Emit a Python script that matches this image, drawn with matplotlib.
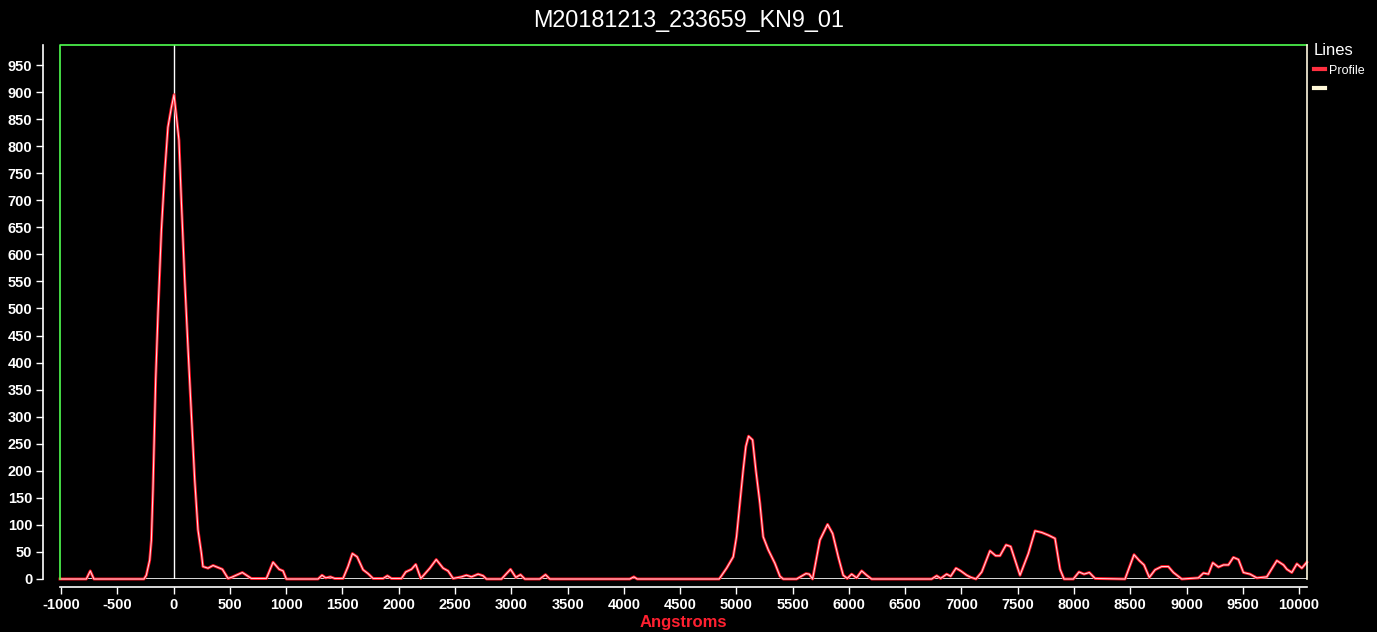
import numpy as np
import matplotlib
matplotlib.use('Agg')
import matplotlib.pyplot as plt
import matplotlib.patheffects as pe
from matplotlib.lines import Line2D

plt.rcParams['font.family'] = ['Liberation Sans', 'DejaVu Sans']
plt.rcParams['axes.unicode_minus'] = False

title = 'M20181213_233659_KN9_01'

# profile (Angstroms, intensity)
wavelength = [-1010, -776, -741, -709, -264, -243, -213, -198, -184, -160, -139, -109, -80, -51, -20,
              3, 18, 47, 68, 98, 127, 157, 187, 216, 246, 260, 305, 350, 433, 483, 513, 610, 690,
              824, 883, 937, 972, 1001, 1283, 1318, 1351, 1393, 1431, 1505, 1549, 1588, 1630, 1683,
              1727, 1772, 1861, 1899, 1935, 2024, 2062, 2113, 2151, 2196, 2276, 2333, 2394, 2438,
              2483, 2557, 2601, 2646, 2705, 2749, 2779, 2913, 2993, 3040, 3082, 3120, 3253, 3304,
              3342, 4053, 4089, 4118, 4847, 4913, 4972, 5001, 5031, 5060, 5084, 5108, 5144, 5173,
              5209, 5238, 5283, 5342, 5387, 5416, 5535, 5618, 5647, 5677, 5742, 5810, 5855, 5905,
              5949, 5985, 6024, 6068, 6113, 6157, 6201, 6735, 6780, 6815, 6868, 6904, 6951, 6993,
              7046, 7084, 7129, 7180, 7253, 7304, 7342, 7396, 7437, 7520, 7594, 7653, 7713, 7772,
              7831, 7876, 7911, 7994, 8044, 8089, 8136, 8187, 8453, 8533, 8580, 8622, 8669, 8720,
              8779, 8838, 8883, 8957, 9105, 9150, 9194, 9233, 9283, 9328, 9372, 9416, 9461, 9505,
              9564, 9624, 9713, 9802, 9861, 9891, 9935, 9980, 10024, 10068]
intensity = [0, 0, 15, 0, 0, 7, 35, 72, 165, 368, 492, 645, 750, 835, 872,
             895, 867, 811, 700, 553, 429, 307, 183, 91, 48, 23, 20, 25, 18, 1, 3, 12, 1,
             1, 31, 18, 15, 0, 0, 7, 2, 4, 1, 1, 23, 47, 41, 17,
             10, 1, 1, 6, 1, 1, 13, 18, 27, 1, 20, 36, 20, 15,
             1, 4, 7, 4, 9, 6, 0, 0, 18, 3, 8, 0, 0, 8,
             0, 0, 4, 0, 0, 20, 41, 78, 140, 201, 245, 264, 257, 201,
             140, 78, 54, 29, 5, 0, 0, 10, 9, 0, 72, 101, 84, 41,
             7, 1, 9, 2, 15, 7, 0, 0, 6, 1, 9, 5, 20, 15,
             7, 3, 0, 13, 52, 43, 43, 63, 60, 7, 47, 89, 86, 81,
             75, 18, 0, 0, 13, 9, 12, 1, 0, 45, 34, 26, 3, 17,
             23, 23, 12, 0, 2, 11, 9, 30, 22, 26, 26, 40, 36, 12,
             9, 2, 4, 34, 26, 18, 12, 28, 20, 31]

yticks = np.arange(0, 1000, 50)
xticks = np.arange(-1000, 10001, 500)

fig = plt.figure(figsize=(13.77, 6.32), dpi=100, facecolor='black')
ax = fig.add_axes([60 / 1377, 53 / 632, 1247 / 1377, 534 / 632], facecolor='black')

ax.axhline(0, color='white', lw=1.2)
ax.axvline(0, color='white', lw=1.0)
ax.plot(wavelength, intensity, color='#ffd0d8', lw=0.8, clip_on=False,
        path_effects=[pe.Stroke(linewidth=2.1, foreground='#ff1020'), pe.Normal()])

ax.set_xlim(-1010, 10070)
ax.set_ylim(0, 987)

# frame: green top/left, pale right
ax.plot([0, 0, 1], [0, 1, 1], transform=ax.transAxes, color='#50ff50', lw=1.2, clip_on=False)
ax.plot([1, 1], [0, 1], transform=ax.transAxes, color='#fff8e0', lw=1.2, clip_on=False)

for s in ['top', 'right']:
    ax.spines[s].set_visible(False)
ax.spines['left'].set_position(('outward', 12))
ax.spines['bottom'].set_position(('outward', 6))
ax.spines['left'].set_color('white')
ax.spines['bottom'].set_color('white')
ax.spines['left'].set_linewidth(1.2)
ax.spines['bottom'].set_linewidth(1.2)

ax.set_yticks(yticks)
ax.set_xticks(xticks)
ax.tick_params(colors='white', length=5, width=1.0, labelsize=10.5, pad=3)
for lab in ax.get_xticklabels() + ax.get_yticklabels():
    lab.set_fontweight('bold')

ax.set_xlabel('Angstroms', color='#ff2030', fontsize=12, fontweight='bold', labelpad=2)
fig.suptitle(title, color='white', fontsize=16.8, y=0.985)

handles = [Line2D([], [], color='#ff3040', lw=3),
           Line2D([], [], color='#fff8d8', lw=3)]
leg = ax.legend(handles, ['Profile', ''], title='Lines', loc='upper left',
                bbox_to_anchor=(0.9995, 1.018), frameon=False, fontsize=9,
                handlelength=0.9, handletextpad=0.3, borderaxespad=0.2, labelspacing=0.55)
leg.get_title().set_color('white')
leg.get_title().set_fontsize(12)
leg._legend_box.align = 'left'
for t in leg.get_texts():
    t.set_color('white')

fig.savefig('out.png', dpi=100, facecolor='black')
